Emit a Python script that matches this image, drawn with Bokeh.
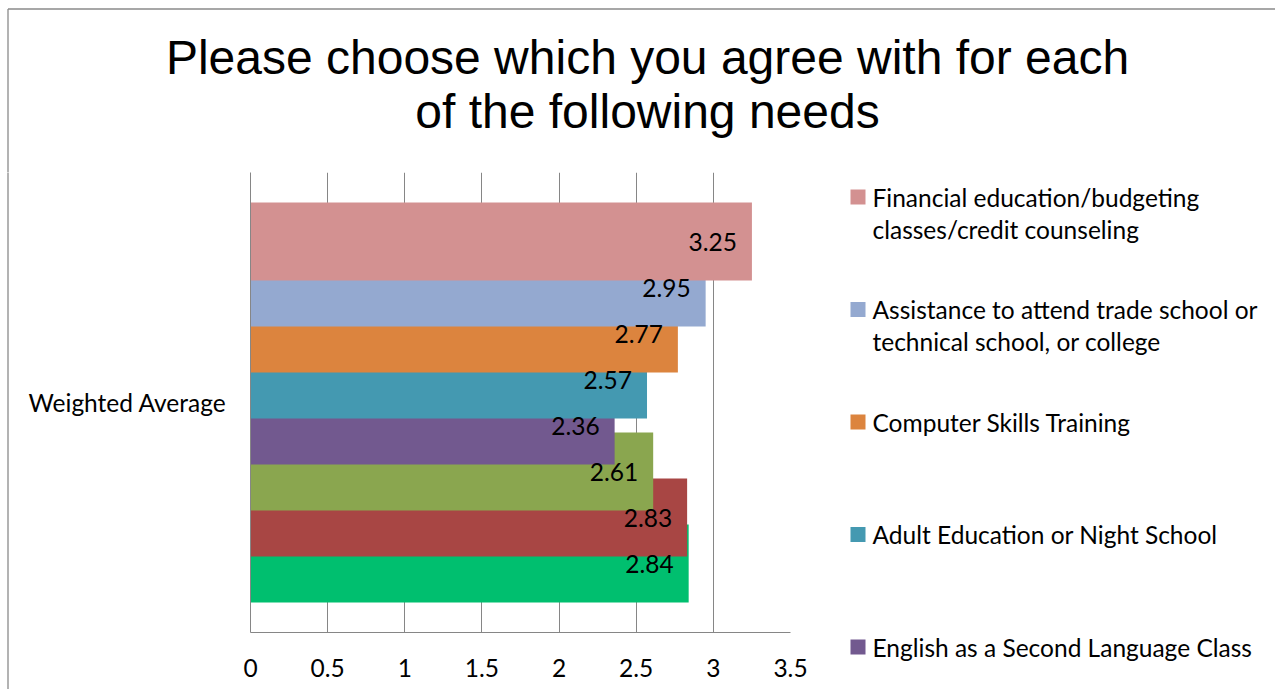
from bokeh.plotting import figure
from bokeh.models import FactorRange, Range1d, ColumnDataSource
from bokeh.layouts import column, row
from bokeh.transform import dodge
from bokeh.core.properties import value
from bokeh.embed import file_html
from bokeh.resources import INLINE

# ---------------- data ----------------
category = ["Weighted Average"]
series_values = [3.25, 2.95, 2.77, 2.57, 2.36, 2.61, 2.83, 2.84]
series_colors = ["#D39191", "#94A9D0", "#DC843E", "#4499B1", "#72598F",
                 "#8AA64F", "#A84644", "#00BF6F"]
legend_lines = [
    ["Financial education/budgeting", "classes/credit counseling"],
    ["Assistance to attend trade school or", "technical school, or college"],
    ["Computer Skills Training"],
    ["Adult Education or Night School"],
    ["English as a Second Language Class"],
]
x_ticks = [0, 0.5, 1, 1.5, 2, 2.5, 3, 3.5]
x_tick_labels = ["0", "0.5", "1", "1.5", "2", "2.5", "3", "3.5"]
title_lines = ["Please choose which you agree with for each", "of the following needs"]

# ---------------- layout constants ----------------
FONT = "Lato"
FS = "24.5px"
GRID = "#868686"
BORDER = "#8a8a8a"
W, H = 1275, 689
TOP_H = 172              # height of title strip (frame top in page coords)
STRIP_W = 24             # left strip holding the outer border line
MAIN_R = 820             # right edge of main figure canvas (page coords)
FRAME_L, FRAME_R, FRAME_B = 250, 790, 632
XMAX = 3.5


def no_align(f):
    try:
        f.frame_align = False
    except Exception:
        pass
    return f


def pixel_fig(x0, x1, y0, y1):
    f = figure(width=x1 - x0, height=y1 - y0,
               x_range=Range1d(x0, x1), y_range=Range1d(y1, y0),
               min_border=0, x_axis_location=None, y_axis_location=None,
               output_backend="svg", toolbar_location=None, outline_line_color=None,
               background_fill_color="white", border_fill_color="white")
    f.grid.visible = False
    return no_align(f)


# ---------------- title strip ----------------
top = pixel_fig(0, W, 0, TOP_H)
top.segment(x0=[7.5, 7.5], y0=[8.5, 8.5], x1=[W + 5, 7.5], y1=[8.5, TOP_H + 1],
            line_color=BORDER, line_width=1.3)
top.text(x=[647, 647], y=[57, 111], text=title_lines, text_align="center",
         text_baseline="middle", text_font=value("Liberation Sans"),
         text_font_size="48px", text_color="black")

# ---------------- left border strip ----------------
strip = pixel_fig(0, STRIP_W, TOP_H, H)
strip.segment(x0=[7.5], y0=[TOP_H - 1], x1=[7.5], y1=[H + 5], line_color=BORDER, line_width=1.3)

# ---------------- main chart ----------------
p = figure(
    y_range=FactorRange(factors=category), x_range=Range1d(0, XMAX),
    frame_width=FRAME_R - FRAME_L, frame_height=FRAME_B - TOP_H,
    min_border_left=FRAME_L - STRIP_W, min_border_right=MAIN_R - FRAME_R,
    min_border_top=0, min_border_bottom=H - FRAME_B,
    output_backend="svg", toolbar_location=None, outline_line_color=None,
    background_fill_color="white", border_fill_color="white",
)
no_align(p)

n = len(series_values)
offsets = [0.35 - 0.1 * i for i in range(n)]

# bars: lower series first so that upper ones overlap them
for i in reversed(range(n)):
    src = ColumnDataSource(dict(cat=category, val=[series_values[i]]))
    p.hbar(y=dodge("cat", offsets[i], range=p.y_range), left=0, right="val",
           height=0.17, source=src, fill_color=series_colors[i], line_color=None)

for i in range(n):
    src = ColumnDataSource(dict(cat=category, val=[series_values[i]],
                                lbl=["%.2f" % series_values[i]]))
    p.text(x="val", y=dodge("cat", offsets[i], range=p.y_range), text="lbl", source=src,
           x_offset=-15, text_align="right", text_baseline="middle",
           text_font=value(FONT), text_font_size=FS, text_color="black")

p.xaxis.ticker = x_ticks
p.xaxis.major_label_overrides = {t: l for t, l in zip(x_ticks, x_tick_labels)}
p.xaxis.major_tick_line_color = None
p.xaxis.minor_tick_line_color = None
p.xaxis.axis_line_color = GRID
p.xaxis.major_label_standoff = 20
p.xaxis.major_label_text_font = FONT
p.xaxis.major_label_text_font_size = FS
p.xaxis.major_label_text_color = "black"

p.yaxis.major_tick_line_color = None
p.yaxis.minor_tick_line_color = None
p.yaxis.axis_line_color = GRID
p.yaxis.major_label_standoff = 18
p.yaxis.major_label_text_font = FONT
p.yaxis.major_label_text_font_size = FS
p.yaxis.major_label_text_color = "black"

p.xgrid.ticker = x_ticks
p.xgrid.grid_line_color = GRID
p.ygrid.grid_line_color = None

# ---------------- legend ----------------
leg = pixel_fig(MAIN_R, W, TOP_H, H)
sq_x, sq_y, sq_c = [], [], []
tx, ty, tt = [], [], []
for j, lines in enumerate(legend_lines):
    yc = 196.5 + 112.5 * j
    sq_x.append(857.5)
    sq_y.append(yc)
    sq_c.append(series_colors[j])
    for m, t in enumerate(lines):
        tx.append(872)
        ty.append(yc + 32 * m)
        tt.append(t)
leg.rect(x=sq_x, y=sq_y, width=15, height=15, fill_color=sq_c, line_color=None)
leg.text(x=tx, y=ty, text=tt, text_align="left", text_baseline="middle",
         text_font=value(FONT), text_font_size=FS, text_color="black")

layout = column(top, row(strip, p, leg, spacing=0), spacing=0)
open("out.html", "w").write(file_html(layout, INLINE))
